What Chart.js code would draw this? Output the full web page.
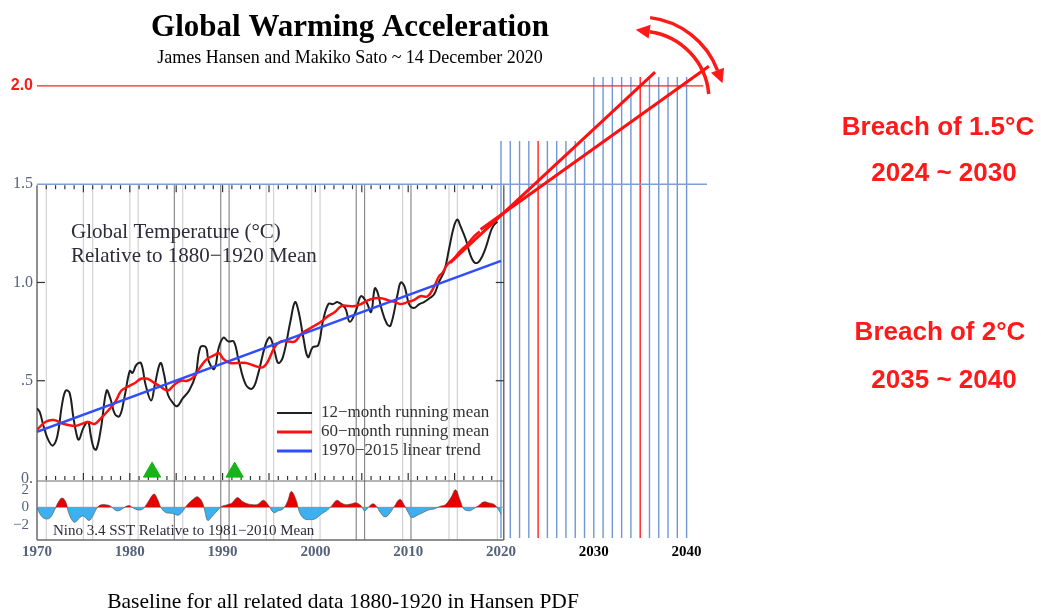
<!DOCTYPE html>
<html>
<head>
<meta charset="utf-8">
<script src="https://cdn.jsdelivr.net/npm/chart.js@4.4.0/dist/chart.umd.min.js"></script>
<style>
  html, body { margin: 0; padding: 0; background: #fff; }
  #wrap { width: 1041px; height: 612px; position: relative; }
</style>
</head>
<body>
<div id="wrap"><canvas id="chart"></canvas></div>
<script>
// start: data
const t12Years = [1970.0, 1970.3, 1970.7, 1971.2, 1971.7, 1972.2, 1972.7, 1973.1, 1973.5, 1973.9,
    1974.2, 1974.5, 1975.0, 1975.5, 1975.8, 1976.1, 1976.4, 1976.9, 1977.5, 1977.9,
    1978.4, 1978.9, 1979.4, 1980.0, 1980.3, 1980.7, 1981.2, 1981.7, 1982.3, 1982.7,
    1983.3, 1983.7, 1984.1, 1984.6, 1985.1, 1985.7, 1986.4, 1987.1, 1987.6, 1988.2,
    1988.5, 1989.1, 1989.6, 1990.1, 1990.6, 1991.2, 1991.7, 1992.5, 1993.2, 1993.8,
    1994.6, 1995.1, 1995.6, 1996.0, 1996.5, 1997.3, 1997.8, 1998.2, 1998.7, 1999.2,
    1999.7, 2000.3, 2000.8, 2001.4, 2001.9, 2002.4, 2003.2, 2003.7, 2004.4, 2004.9,
    2005.5, 2006.0, 2006.4, 2006.7, 2007.1, 2007.7, 2008.1, 2008.9, 2009.2, 2009.6,
    2010.1, 2010.6, 2011.2, 2011.7, 2012.3, 2012.8, 2013.3, 2013.9, 2014.4, 2014.9,
    2015.3, 2015.6, 2016.2, 2016.7, 2017.2, 2017.7, 2018.3, 2018.9, 2019.2, 2019.6];
const t12Values = [0.36, 0.34, 0.27, 0.20, 0.17, 0.22, 0.38, 0.45, 0.44, 0.32,
    0.24, 0.20, 0.26, 0.29, 0.22, 0.16, 0.15, 0.26, 0.45, 0.41,
    0.33, 0.32, 0.41, 0.55, 0.54, 0.58, 0.59, 0.48, 0.40, 0.48,
    0.59, 0.53, 0.43, 0.39, 0.37, 0.41, 0.45, 0.53, 0.67, 0.67,
    0.60, 0.56, 0.67, 0.72, 0.70, 0.70, 0.61, 0.48, 0.46, 0.53,
    0.68, 0.72, 0.65, 0.59, 0.62, 0.80, 0.90, 0.85, 0.72, 0.62,
    0.67, 0.68, 0.80, 0.89, 0.89, 0.90, 0.87, 0.80, 0.86, 0.93,
    0.90, 0.85, 0.97, 0.95, 0.87, 0.79, 0.78, 0.95, 1.00, 0.98,
    0.89, 0.87, 0.89, 0.90, 0.92, 0.94, 1.00, 1.06, 1.17, 1.28,
    1.32, 1.29, 1.22, 1.14, 1.10, 1.11, 1.17, 1.26, 1.29, 1.31];

const t60Years = [1970.0, 1970.9, 1971.8, 1972.9, 1974.1, 1974.8, 1975.5, 1976.2, 1976.9, 1977.7,
    1978.4, 1979.1, 1979.8, 1980.6, 1981.2, 1981.9, 1982.6, 1983.3, 1984.1, 1984.8,
    1985.5, 1986.2, 1986.9, 1987.6, 1988.3, 1989.1, 1989.6, 1990.1, 1990.8, 1991.5,
    1992.5, 1993.2, 1993.9, 1994.4, 1994.9, 1995.6, 1996.3, 1997.1, 1997.8, 1998.5,
    1999.2, 1999.9, 2000.6, 2001.4, 2002.1, 2002.8, 2003.6, 2004.3, 2004.9, 2005.7,
    2006.4, 2007.1, 2007.8, 2008.6, 2009.2, 2009.9, 2010.6, 2011.3, 2012.1, 2012.8,
    2013.3, 2013.7, 2014.2, 2014.9, 2015.6, 2016.3, 2017.0, 2017.7];
const t60Values = [0.25, 0.29, 0.30, 0.28, 0.27, 0.28, 0.29, 0.28, 0.31, 0.35,
    0.39, 0.45, 0.47, 0.49, 0.51, 0.51, 0.49, 0.47, 0.45, 0.48,
    0.50, 0.50, 0.52, 0.57, 0.61, 0.63, 0.64, 0.61, 0.59, 0.59,
    0.59, 0.58, 0.57, 0.57, 0.60, 0.67, 0.70, 0.70, 0.70, 0.74,
    0.76, 0.78, 0.80, 0.83, 0.85, 0.88, 0.88, 0.88, 0.89, 0.91,
    0.92, 0.92, 0.91, 0.90, 0.89, 0.90, 0.91, 0.93, 0.93, 0.98,
    1.03, 1.05, 1.09, 1.12, 1.16, 1.19, 1.23, 1.26];

const trendYears = [1970, 2020];
const trendValues = [0.24, 1.11];

// the two hand-drawn projections towards 2.0 °C
const proj1Years = [2014.5, 2036.6];
const proj1Values = [1.10, 2.07];
const proj2Years = [2017.8, 2042.4];
const proj2Values = [1.27, 2.10];

const ninoYears = [1970.0, 1970.4, 1970.9, 1971.4, 1971.9, 1972.3, 1972.7, 1973.1, 1973.4, 1973.8,
    1974.1, 1974.6, 1975.0, 1975.6, 1976.0, 1976.4, 1976.8, 1977.4, 1977.9, 1978.4,
    1978.8, 1979.3, 1979.9, 1980.4, 1980.9, 1981.4, 1981.9, 1982.6, 1983.0, 1983.4,
    1983.9, 1984.6, 1985.2, 1985.6, 1986.2, 1986.8, 1987.3, 1987.8, 1988.1, 1988.4,
    1988.9, 1989.5, 1989.9, 1990.5, 1991.0, 1991.6, 1992.1, 1992.7, 1993.3, 1993.8,
    1994.4, 1994.9, 1995.5, 1996.0, 1996.5, 1997.0, 1997.4, 1997.9, 1998.3, 1998.8,
    1999.4, 2000.0, 2000.6, 2001.2, 2001.7, 2002.3, 2002.8, 2003.3, 2003.9, 2004.4,
    2004.9, 2005.3, 2005.8, 2006.2, 2006.6, 2007.0, 2007.5, 2008.0, 2008.5, 2009.1,
    2009.6, 2010.0, 2010.4, 2011.0, 2011.6, 2012.2, 2012.8, 2013.4, 2014.0, 2014.6,
    2015.1, 2015.6, 2016.0, 2016.6, 2017.0, 2017.6, 2018.1, 2018.7, 2019.3, 2019.8, 2020.0];
const ninoValues = [0.0, -0.9, -1.3, -1.2, -0.3, 0.6, 1.05, 0.6, -0.6, -1.5,
    -1.7, -1.2, -1.0, -1.5, -1.0, -0.2, 0.25, 0.3, 0.15, -0.3,
    -0.4, -0.1, 0.2, -0.1, -0.3, -0.2, 0.5, 1.5, 0.9, -0.1,
    -0.6, -0.7, -0.9, -0.6, 0.3, 0.9, 1.2, 0.6, -0.5, -1.5,
    -1.0, -0.3, 0.1, 0.3, 0.5, 1.1, 0.7, 0.4, 0.3, 0.35,
    0.8, 0.3, -0.6, -0.4, -0.2, 0.7, 1.8, 0.9, -0.6, -1.3,
    -1.4, -1.3, -0.8, -0.4, 0.1, 0.8, 0.5, 0.3, 0.4, 0.5,
    0.2, -0.4, 0.1, 0.4, 0.1, -0.6, -1.1, -0.7, 0.1, 0.9,
    0.2, -0.6, -1.15, -0.9, -0.6, -0.3, -0.2, 0.1, 0.3, 1.1,
    2.0, 0.8, -0.2, -0.4, -0.2, 0.2, 0.6, 0.5, 0.3, -0.4, -0.8];

const volcanoYears = [1982.4, 1991.3];

const decadeTicks = [1970, 1980, 1990, 2000, 2010, 2020, 2030, 2040];
const tempTicks = [0, 0.5, 1.0, 1.5, 2.0];
const ninoTicks = [2, 0, -2];
const extYears = [2020, 2021, 2022, 2023, 2024, 2025, 2026, 2027, 2028, 2029, 2030,
    2031, 2032, 2033, 2034, 2035, 2036, 2037, 2038, 2039, 2040];
const breachYears = [2024, 2035];
const refLines = [1971, 1975, 1976, 1980, 1980.9, 1984.8, 1985.7, 1989.8, 1990.7, 1994.7,
    1995.5, 1999.6, 2000.5, 2004.4, 2005.3, 2009.4, 2010.3, 2014.4, 2015.3, 2019.6];
const darkRefLines = [1984.8, 1989.8, 1990.7, 2004.4, 2005.3, 2010.3];
// end: data

const serif = '"Liberation Serif", "Times New Roman", serif';
const sans = '"Liberation Sans", Arial, sans-serif';
const slate = '#56627a';

const pts = (xs, ys) => xs.map((v, i) => ({ x: v, y: ys[i] }));

function arcArrow(ctx, cx, cy, r, a0, a1, headAtEnd) {
    ctx.beginPath();
    ctx.arc(cx, cy, r, a0, a1);
    ctx.stroke();
    const a = headAtEnd ? a1 : a0;
    const px = cx + r * Math.cos(a), py = cy + r * Math.sin(a);
    let dx = -Math.sin(a), dy = Math.cos(a);
    if (!headAtEnd) { dx = -dx; dy = -dy; }
    const L = 14, W = 7;
    ctx.beginPath();
    ctx.moveTo(px + dx * L, py + dy * L);
    ctx.lineTo(px - dy * W, py + dx * W);
    ctx.lineTo(px + dy * W, py - dx * W);
    ctx.closePath();
    ctx.fill();
}

const decor = {
    id: 'decor',
    beforeDatasetsDraw(chart) {
        const { ctx, chartArea: a, scales: { x, y } } = chart;
        const X = v => x.getPixelForValue(v);
        const Y = v => y.getPixelForValue(v);
        const left = X(1970), right = X(2020.3), top = Y(1.5), bottom = a.bottom, base = Y(0);
        const seg = (x0, y0, x1, y1) => { ctx.beginPath(); ctx.moveTo(x0, y0); ctx.lineTo(x1, y1); ctx.stroke(); };
        ctx.save();

        // gray reference lines of the Hansen panel
        refLines.forEach(yr => {
            ctx.strokeStyle = darkRefLines.includes(yr) ? '#8a8a8a' : '#d2d2d2';
            ctx.lineWidth = 1.2;
            seg(X(yr), top, X(yr), bottom);
        });

        // yearly lines 2020-2040
        extYears.forEach(yr => {
            ctx.strokeStyle = breachYears.includes(yr) ? '#ff1f1f' : '#6f97d6';
            ctx.lineWidth = 1.4;
            seg(X(yr), Y(yr < 2030 ? 1.72 : 2.045), X(yr), bottom - 2);
        });

        // 2.0 and 1.5 levels
        ctx.strokeStyle = '#ff2020';
        ctx.lineWidth = 1.3;
        seg(left, Y(2.0), X(2041.8), Y(2.0));
        ctx.strokeStyle = '#7c9fd6';
        ctx.lineWidth = 1.6;
        seg(left, top, X(2042.2), top);

        // frame
        ctx.strokeStyle = '#6a6a6a';
        ctx.lineWidth = 1.5;
        seg(left, top + 1, left, bottom);
        seg(right, top + 1, right, bottom);
        seg(left, bottom, right, bottom);
        ctx.lineWidth = 1.2;
        seg(left, base + 2, right, base + 2);
        ctx.strokeStyle = '#9a9a9a';
        ctx.lineWidth = 1;
        seg(left, chart.scales.y2.getPixelForValue(0), right, chart.scales.y2.getPixelForValue(0));

        // year ticks along top and baseline
        ctx.strokeStyle = '#333';
        ctx.lineWidth = 1.2;
        for (let yr = 1971; yr < 2020; yr++) {
            const len = yr % 5 === 0 ? 7 : 4;
            seg(X(yr), top + 1, X(yr), top + 1 + len);
            seg(X(yr), base + 1, X(yr), base + 1 - len);
        }
        [0.5, 1.0].forEach(v => {
            seg(left, Y(v), left + 8, Y(v));
            seg(right, Y(v), right - 8, Y(v));
        });
        ctx.restore();
    },
    afterDraw(chart) {
        const { ctx, scales: { y2 } } = chart;
        ctx.save();
        ctx.textBaseline = 'middle';

        // titles
        ctx.fillStyle = '#000';
        ctx.textAlign = 'center';
        ctx.font = 'bold 31px ' + serif;
        ctx.fillText('Global Warming Acceleration', 350, 28);
        ctx.font = '18px ' + serif;
        ctx.fillText('James Hansen and Makiko Sato ~ 14 December 2020', 350, 58);
        ctx.font = '21.5px ' + serif;
        ctx.fillText('Baseline for all related data 1880-1920 in Hansen PDF', 343, 602);

        // panel labels
        ctx.textAlign = 'left';
        ctx.fillStyle = '#2c2c3a';
        ctx.font = '21px ' + serif;
        ctx.fillText('Global Temperature (\u00B0C)', 71, 232);
        ctx.fillText('Relative to 1880\u22121920 Mean', 71, 256);
        ctx.font = '15px ' + serif;
        ctx.fillText('Nino 3.4 SST Relative to 1981\u22122010 Mean', 53, 531);

        // legend
        const legend = [
            ['12\u2212month running mean', '#222', 2],
            ['60\u2212month running mean', '#ff1010', 3],
            ['1970\u22122015 linear trend', '#2f4cff', 3]
        ];
        legend.forEach(([label, color, w], i) => {
            const ly = 413 + i * 19;
            ctx.strokeStyle = color;
            ctx.lineWidth = w;
            ctx.beginPath(); ctx.moveTo(277, ly); ctx.lineTo(312, ly); ctx.stroke();
            ctx.fillStyle = '#333';
            ctx.font = '17px ' + serif;
            ctx.fillText(label, 321, ly);
        });

        // nino axis labels
        ctx.textAlign = 'right';
        ctx.fillStyle = slate;
        ctx.font = '15px ' + serif;
        ninoTicks.forEach(v => {
            ctx.fillText(v < 0 ? '\u2212' + Math.abs(v) : String(v), 29, y2.getPixelForValue(v));
        });

        // breach notes
        ctx.textAlign = 'center';
        ctx.fillStyle = '#ff1a1a';
        ctx.font = 'bold 26px ' + sans;
        ctx.fillText('Breach of 1.5\u00B0C', 938, 128);
        ctx.fillText('2024 ~ 2030', 944, 174);
        ctx.fillText('Breach of 2\u00B0C', 940, 333);
        ctx.fillText('2035 ~ 2040', 944, 381);

        // curved arrows
        ctx.strokeStyle = '#ff1a1a';
        ctx.fillStyle = '#ff1a1a';
        ctx.lineWidth = 3.5;
        const d = Math.PI / 180;
        arcArrow(ctx, 640, 100, 69, -82 * d, -5 * d, false);
        arcArrow(ctx, 640, 100, 83, -83 * d, -21 * d, true);
        ctx.restore();
    }
};

new Chart(document.getElementById('chart'), {
    type: 'line',
    data: {
        datasets: [{
            data: pts(proj1Years, proj1Values),
            borderColor: '#ff1010', borderWidth: 3, order: 0
        }, {
            data: pts(proj2Years, proj2Values),
            borderColor: '#ff1010', borderWidth: 3, order: 0
        }, {
            data: pts(trendYears, trendValues),
            borderColor: '#2f4cff', borderWidth: 2.5, order: 1
        }, {
            data: pts(t60Years, t60Values),
            borderColor: '#ff1010', borderWidth: 2.5, tension: 0.4, order: 2
        }, {
            data: pts(t12Years, t12Values),
            borderColor: '#1e1e1e', borderWidth: 2, tension: 0.4, order: 3
        }, {
            type: 'scatter',
            data: volcanoYears.map(v => ({ x: v, y: 0.035 })),
            pointStyle: 'triangle', pointRadius: 10,
            backgroundColor: '#16b416', borderColor: '#16b416', order: 4
        }, {
            data: pts(ninoYears, ninoValues),
            yAxisID: 'y2',
            borderColor: 'rgba(70,70,70,0.7)', borderWidth: 0.8, tension: 0.4,
            fill: { target: { value: 0 }, above: '#e60000', below: '#3cb0f0' },
            order: 5
        }]
    },
    options: {
        responsive: true,
        maintainAspectRatio: false,
        animation: false,
        events: [],
        elements: { point: { radius: 0 } },
        layout: { padding: { top: 60, right: 321, bottom: 0, left: 0 } },
        plugins: {
            legend: { display: false },
            tooltip: { enabled: false }
        },
        scales: {
            x: {
                type: 'linear',
                min: 1970,
                max: 2043.6,
                grid: { display: false, drawTicks: false },
                border: { display: false },
                afterBuildTicks: s => { s.ticks = decadeTicks.map(v => ({ value: v })); },
                afterFit: s => { s.height = 72; },
                ticks: {
                    padding: 3,
                    maxRotation: 0,
                    callback: v => String(v),
                    color: c => c.tick && c.tick.value > 2020 ? '#000' : slate,
                    font: c => c.tick && c.tick.value > 2020
                        ? { family: serif, size: 15, weight: 'bold' }
                        : { family: serif, size: 15, weight: 'bold' }
                }
            },
            y: {
                min: -0.3104,
                max: 2.132,
                grid: { display: false, drawTicks: false },
                border: { display: false },
                afterBuildTicks: s => { s.ticks = tempTicks.map(v => ({ value: v })); },
                afterFit: s => { s.width = 37; },
                ticks: {
                    padding: 4,
                    callback: v => v === 2 ? '2.0' : v === 1.5 ? '1.5' : v === 1 ? '1.0' : v === 0.5 ? '.5' : '0.',
                    color: c => c.tick && c.tick.value === 2 ? '#ff1a1a' : slate,
                    font: c => c.tick && c.tick.value === 2
                        ? { family: sans, size: 16, weight: 'bold' }
                        : { family: serif, size: 16 }
                }
            },
            y2: {
                display: false,
                min: -3.716,
                max: 50.83
            }
        }
    },
    plugins: [decor]
});
</script>
</body>
</html>
